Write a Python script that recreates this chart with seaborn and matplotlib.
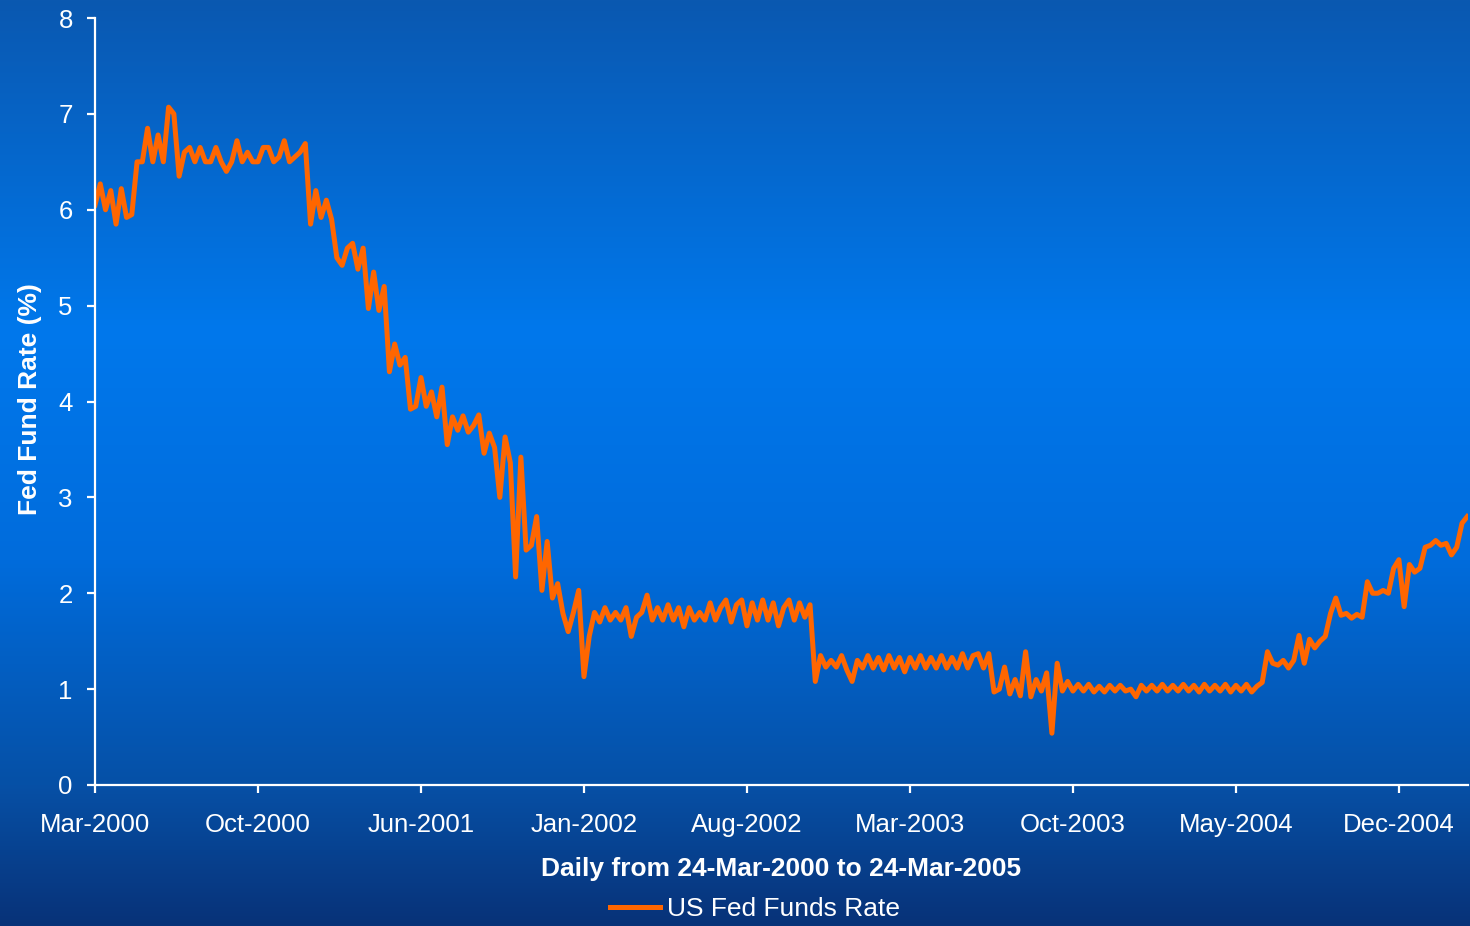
import numpy as np
import pandas as pd
import matplotlib
matplotlib.use("Agg")
import matplotlib.pyplot as plt
import matplotlib.dates as mdates
import seaborn as sns

# Weekly readings of the effective US Fed Funds rate (%), 24-Mar-2000 onward
start_date = "2000-03-24"
end_date = "2005-03-26"
rates = [
    6.05, 6.27, 6.00, 6.20, 5.85, 6.22, 5.92, 5.95, 6.50, 6.50,
    6.85, 6.50, 6.78, 6.50, 7.07, 7.00, 6.35, 6.60, 6.65, 6.50,
    6.65, 6.50, 6.50, 6.65, 6.50, 6.40, 6.50, 6.72, 6.50, 6.60,
    6.50, 6.50, 6.65, 6.65, 6.50, 6.55, 6.72, 6.50, 6.55, 6.60,
    6.69, 5.85, 6.20, 5.92, 6.10, 5.90, 5.50, 5.42, 5.60, 5.65,
    5.38, 5.60, 4.97, 5.35, 4.95, 5.20, 4.31, 4.60, 4.38, 4.46,
    3.92, 3.95, 4.25, 3.95, 4.10, 3.84, 4.15, 3.55, 3.84, 3.70,
    3.85, 3.68, 3.75, 3.86, 3.46, 3.67, 3.52, 3.00, 3.63, 3.36,
    2.17, 3.42, 2.45, 2.50, 2.80, 2.03, 2.54, 1.95, 2.10, 1.79,
    1.60, 1.80, 2.03, 1.13, 1.55, 1.80, 1.70, 1.85, 1.72, 1.80,
    1.72, 1.85, 1.55, 1.75, 1.80, 1.98, 1.72, 1.85, 1.72, 1.88,
    1.72, 1.85, 1.65, 1.85, 1.72, 1.80, 1.72, 1.90, 1.72, 1.85,
    1.93, 1.70, 1.88, 1.93, 1.66, 1.90, 1.72, 1.93, 1.72, 1.90,
    1.66, 1.85, 1.93, 1.72, 1.90, 1.75, 1.88, 1.08, 1.35, 1.23,
    1.30, 1.23, 1.35, 1.20, 1.08, 1.30, 1.22, 1.35, 1.22, 1.33,
    1.20, 1.35, 1.22, 1.33, 1.18, 1.33, 1.22, 1.35, 1.22, 1.33,
    1.22, 1.35, 1.22, 1.33, 1.22, 1.37, 1.22, 1.35, 1.37, 1.22,
    1.37, 0.97, 1.00, 1.23, 0.95, 1.10, 0.93, 1.39, 0.92, 1.10,
    0.98, 1.17, 0.54, 1.27, 0.98, 1.08, 0.98, 1.05, 0.98, 1.05,
    0.97, 1.03, 0.97, 1.04, 0.98, 1.04, 0.98, 1.00, 0.92, 1.04,
    0.98, 1.04, 0.98, 1.05, 0.98, 1.04, 0.98, 1.05, 0.98, 1.04,
    0.97, 1.05, 0.98, 1.04, 0.98, 1.05, 0.97, 1.04, 0.98, 1.05,
    0.97, 1.03, 1.07, 1.39, 1.27, 1.25, 1.30, 1.22, 1.30, 1.56,
    1.27, 1.52, 1.43, 1.50, 1.55, 1.79, 1.95, 1.77, 1.79, 1.74,
    1.78, 1.75, 2.12, 2.00, 2.00, 2.03, 2.00, 2.26, 2.35, 1.86,
    2.30, 2.22, 2.26, 2.48, 2.50, 2.55, 2.50, 2.52, 2.40, 2.48,
    2.73, 2.80,
]
tick_labels_at = ["2000-03-24", "2000-10-27", "2001-06-01", "2002-01-04",
                  "2002-08-09", "2003-03-14", "2003-10-17", "2004-05-21",
                  "2004-12-24"]
y_ticks = [0, 1, 2, 3, 4, 5, 6, 7, 8]

df = pd.DataFrame({
    "date": pd.date_range(start_date, periods=len(rates), freq="7D"),
    "rate": rates,
})

W, H = 1470, 926
fig = plt.figure(figsize=(W / 100, H / 100), dpi=100)

# Vertical blue gradient behind everything
stops_y = np.array([0, 330, 560, 785, 926]) / H
stops_c = np.array([
    [10, 88, 176],
    [0, 120, 236],
    [0, 108, 220],
    [6, 80, 166],
    [8, 50, 120],
]) / 255.0
yy = np.linspace(0, 1, H)
grad = np.stack([np.interp(yy, stops_y, stops_c[:, i]) for i in range(3)], axis=1)
grad = np.repeat(grad[:, None, :], 4, axis=1)
bg = fig.add_axes([0, 0, 1, 1], zorder=-1)
bg.imshow(grad, aspect="auto", extent=[0, 1, 0, 1], origin="upper")
bg.axis("off")

ax = fig.add_axes([95 / W, (H - 785) / H, (1468 - 95) / W, (785 - 18) / H])
ax.set_facecolor("none")

orange = "#ff6600"
sns.lineplot(data=df, x="date", y="rate", ax=ax, color=orange, lw=3.6,
             label="US Fed Funds Rate", legend=False)

ax.set_ylim(0, 8)
ax.set_yticks(y_ticks)
ax.set_xlim(pd.Timestamp(start_date), pd.Timestamp(end_date))
ax.set_xticks(pd.to_datetime(tick_labels_at))
ax.xaxis.set_major_formatter(mdates.DateFormatter("%b-%Y"))

font = "Liberation Sans"
for side in ["top", "right"]:
    ax.spines[side].set_visible(False)
for side in ["left", "bottom"]:
    ax.spines[side].set_color("white")
    ax.spines[side].set_linewidth(1.6)
ax.tick_params(axis="both", colors="white", width=1.6, length=6,
               direction="out", labelsize=18.5)
ax.tick_params(axis="x", pad=14)
ax.tick_params(axis="y", pad=10)
for lbl in ax.get_xticklabels() + ax.get_yticklabels():
    lbl.set_fontfamily(font)
    lbl.set_color("white")

ax.set_xlabel("Daily from 24-Mar-2000 to 24-Mar-2005", fontsize=19,
              fontweight="bold", color="white", family=font)
ax.set_ylabel("Fed Fund Rate (%)", fontsize=19, fontweight="bold",
              color="white", family=font)
ax.xaxis.set_label_coords((781 - 95) / (1468 - 95), -(857 - 785) / (785 - 18))
ax.yaxis.set_label_coords(-(95 - 42) / (1468 - 95), (785 - 399) / (785 - 18))

handles, labels = ax.get_legend_handles_labels()
fig.legend(handles, labels, loc="center", bbox_to_anchor=(755 / W, 1 - 909 / H),
           frameon=False, handlelength=1.9, handletextpad=0.25,
           prop={"family": font, "size": 19}, labelcolor="white")

fig.savefig("out.png", dpi=100)
